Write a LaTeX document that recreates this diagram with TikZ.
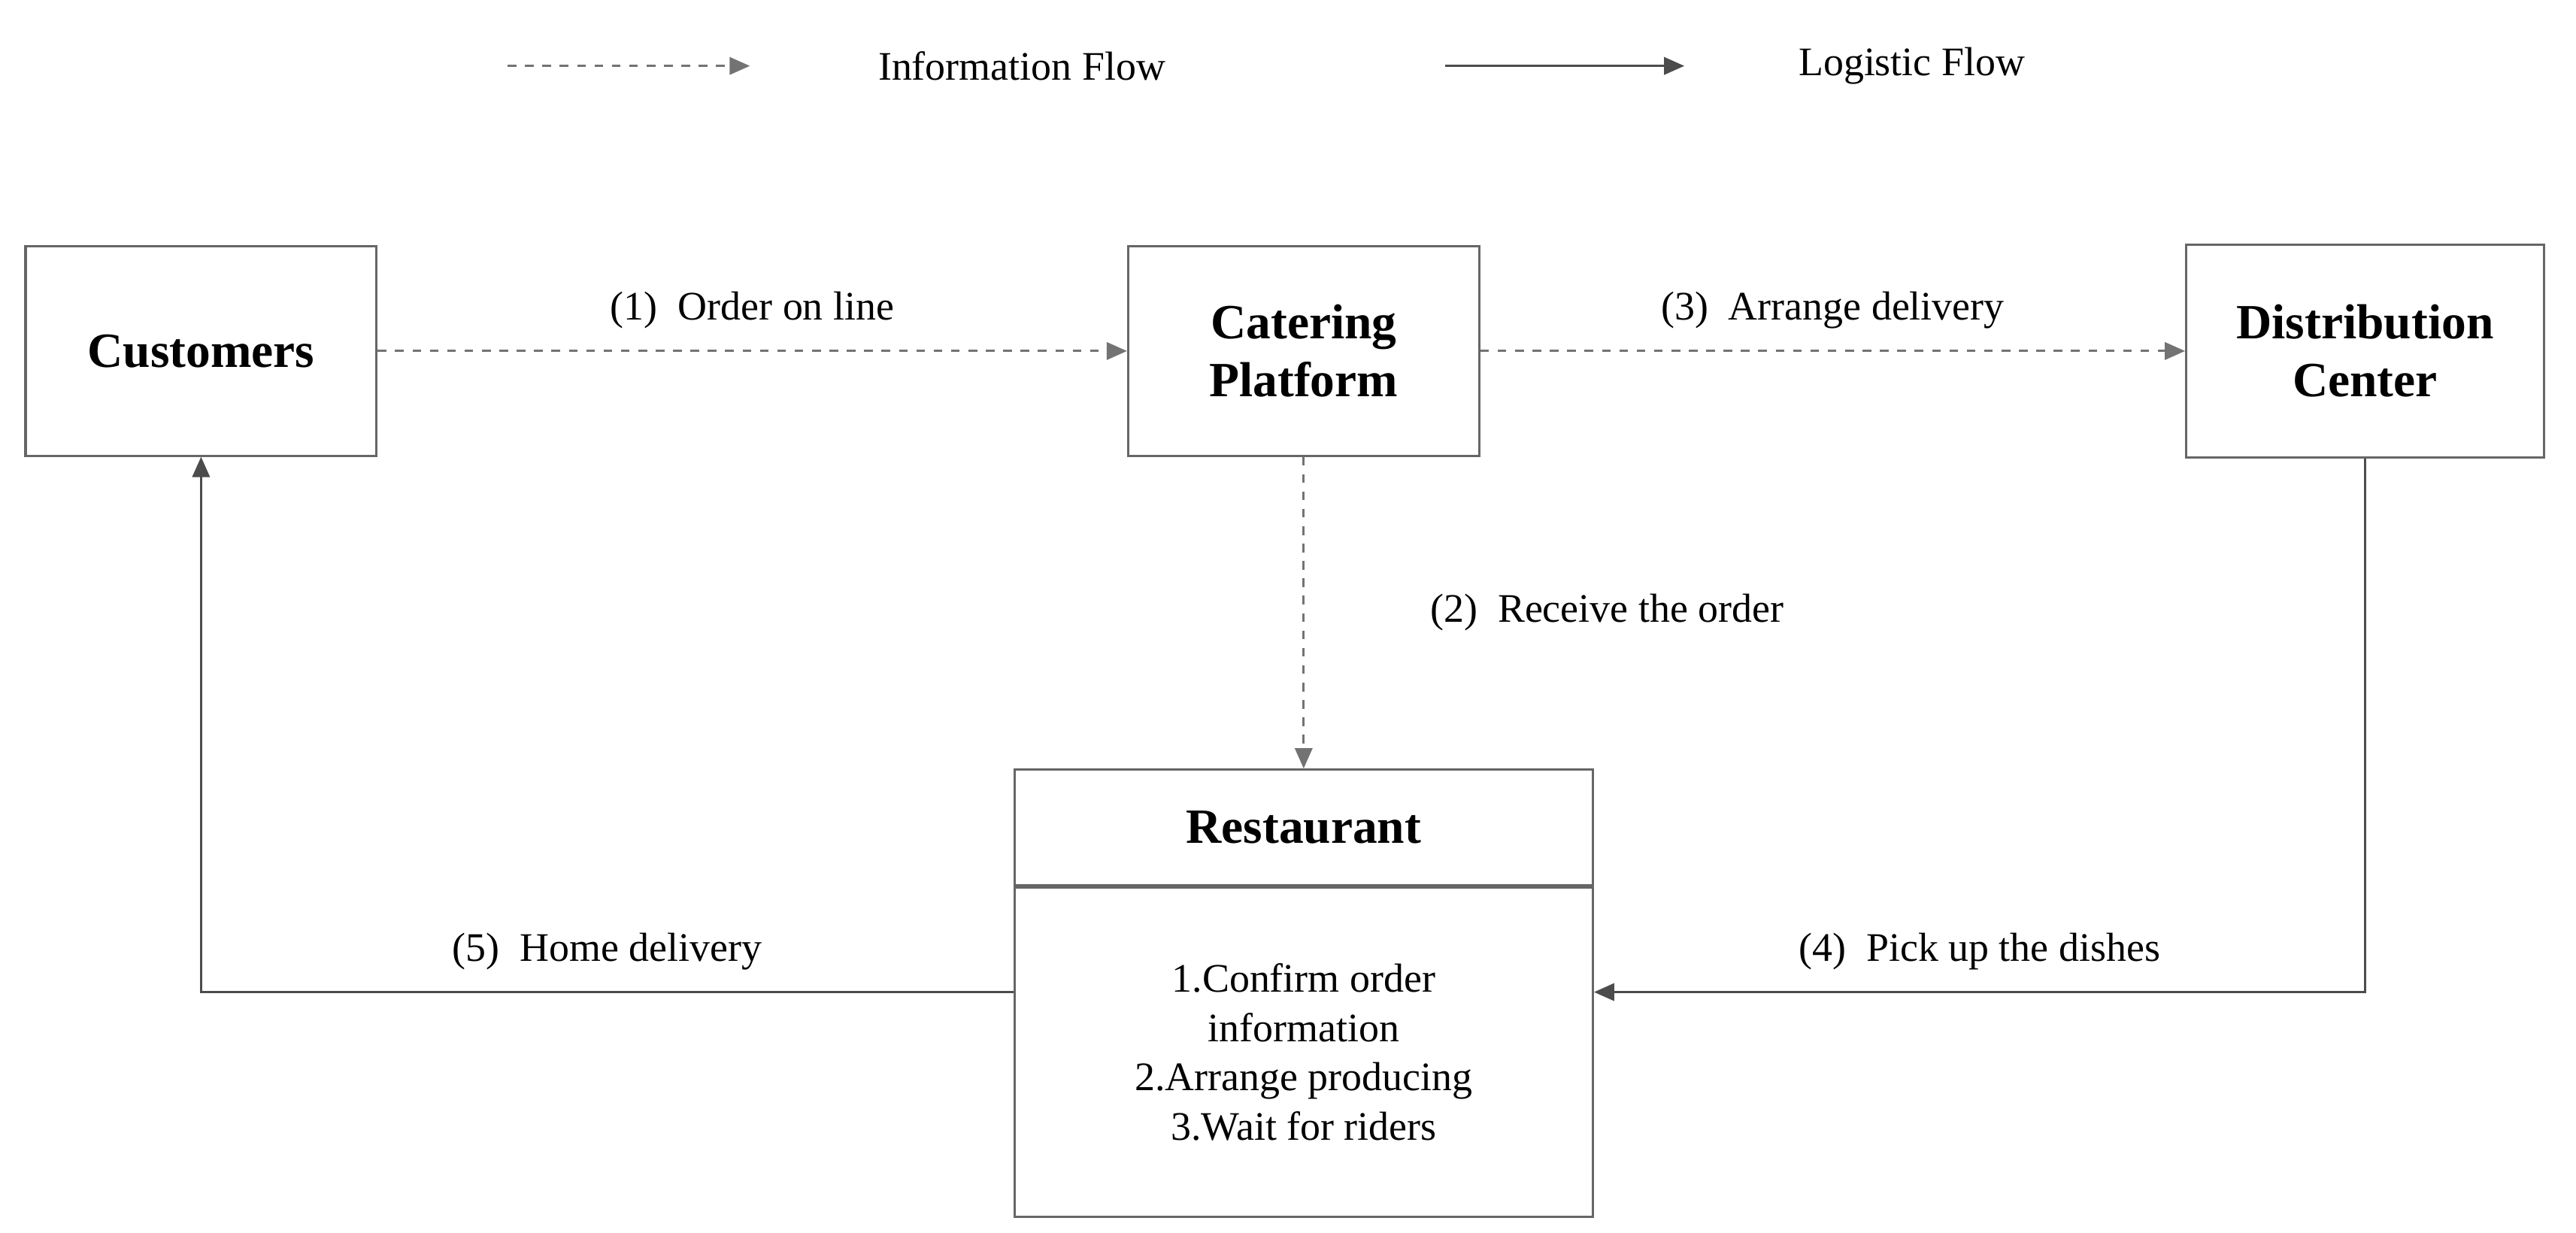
\documentclass[tikz,border=0pt]{standalone}
\usepackage{fontspec}
\setmainfont{Liberation Serif}
\usetikzlibrary{arrows.meta,positioning}
\tikzset{
  box/.style={draw=black!60, line width=0.8pt, minimum width=4.26cm, minimum height=2.54cm, align=center, font=\fontsize{17}{20}\selectfont\bfseries},
  info/.style={-{Triangle[length=7pt,width=6pt]}, dashed, black!55, line width=0.8pt},
  logi/.style={-{Triangle[length=7pt,width=6pt]}, black!70, line width=0.8pt},
  lbl/.style={font=\fontsize{14}{17}\selectfont, text=black}
}
\begin{document}
\begin{tikzpicture}[x=0.02cm, y=-0.02cm]
\useasboundingbox (0,0) rectangle (1563,748);
% legend
\coordinate (i1) at (308,40);
\coordinate (i2) at (455,40);
\coordinate (l1) at (877,40);
\coordinate (l2) at (1022,40);
\draw[info] (i1) -- (i2);
\draw[logi] (l1) -- (l2);
\node[lbl] (infotext) at (620,40) {Information Flow};
\node[lbl] (logitext) at (1160,40) {Logistic Flow};

% boxes
\node[box] (cust) at (122,213) {Customers};
\node[box] (cater) at (791,213) {Catering\\Platform};
\node[box, minimum width=4.34cm, minimum height=2.58cm] (dist) at (1435,213) {Distribution\\Center};
\node[box, minimum width=7.02cm, minimum height=1.4cm] (rest) at (791,502) {Restaurant};
\node[draw=black!60, line width=0.8pt, minimum width=7.02cm, minimum height=4cm, align=center, lbl, below=0pt of rest] (steps)
  {1.Confirm order\\information\\2.Arrange producing\\3.Wait for riders};

% flows
\draw[info] (cust) -- node[lbl, above=4pt]{(1)\enspace Order on line} (cater);
\draw[info] (cater) -- node[lbl, above=4pt]{(3)\enspace Arrange delivery} (dist);
\draw[info] (cater) -- node[lbl, right=40pt]{(2)\enspace Receive the order} (rest);
\draw[logi] (dist.south) |- node[lbl, pos=0.75, above=4pt]{(4)\enspace Pick up the dishes} (steps.east |- 0,602);
\draw[logi] (steps.west |- 0,602) -| node[lbl, pos=0.25, above=4pt]{(5)\enspace Home delivery} (cust.south);
\end{tikzpicture}
\end{document}
